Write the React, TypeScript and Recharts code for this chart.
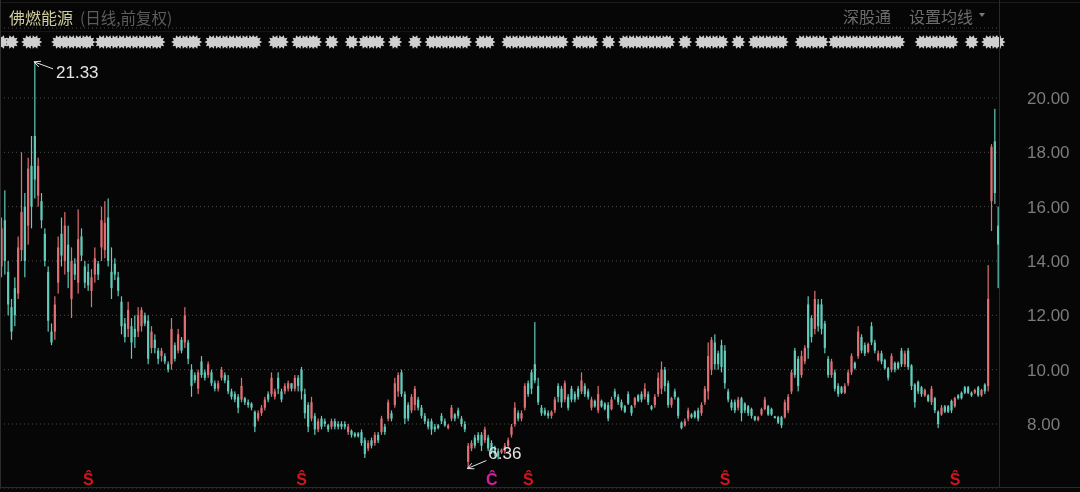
import React from "react";
import { ComposedChart, Bar, Line, XAxis, YAxis, CartesianGrid, ReferenceDot } from "recharts";

const highs = [
  15.6,16.6,14,12.6,13.4,14.9,18,16.5,17.8,18.6,
  21.33,17.8,16.5,15.2,13.8,11.7,12.7,14.9,15.6,15.8,
  15.3,14.5,14.1,15.9,15.2,14,13.9,13.7,14.5,14,
  16,16.2,16.3,14.5,14.1,13.6,12.7,11.9,12.5,11.9,
  12,12.3,12.3,12.1,12,11.6,11.3,10.8,10.8,10.6,
  10.3,11.9,11,11.5,11.2,12.3,11.1,10.2,9.9,10,
  10.5,10,10.3,10,9.6,9.6,10.1,9.9,9.8,9.3,
  9.2,9.1,9.7,9,8.9,8.8,8.5,8.5,8.7,9,
  9.2,9.9,9.3,9.9,9.3,9.5,9.6,9.5,9.8,9.8,
  10.1,9.3,8.8,9,8.4,8.2,8.3,8.2,8,8.2,
  8.2,8.1,8.1,8.1,8,7.8,7.7,7.7,7.8,7.5,
  7.4,7.5,7.7,7.7,8.3,8,8.9,8.5,9.7,9.9,
  10,9.2,8.8,9.1,9.4,9,8.7,8.4,8.2,8.2,
  8,8,8.4,8.2,8,8.7,8.4,8.6,8.3,8.1,
  7.3,7.4,7.6,7.7,7.7,7.9,7.6,7.4,7.2,7.1,
  7.1,7.3,7.5,8,8.8,8.5,8.5,9.5,9.6,10,
  11.75,9.7,8.7,8.6,8.5,8.5,9,9.5,9.4,9.6,
  9.1,9.4,9.2,9.4,9.9,9.5,9.3,9,8.9,9.4,
  8.9,8.8,8.8,9,9.3,9.1,8.9,8.7,9.2,8.7,
  9,9.1,9.2,9.5,9.2,8.7,9.1,9.9,10.3,10.1,
  9.6,9,9.3,9,8.1,8.2,8.6,8.4,8.5,8.6,
  8.8,9.4,11,11.2,11.3,10.7,11.1,10.9,9.3,8.9,
  8.9,9,9,8.8,8.7,8.6,8.3,8.3,8.6,9,
  8.7,8.6,8.3,8.3,8.3,8.9,9.1,10,10.8,10.5,
  10.7,10.9,12.7,12,12.9,12.6,12.6,11.8,10.5,10.4,
  10,9.5,9.4,9.5,10,10.6,10.3,11.6,11.3,11,
  11,11.75,11.1,10.7,10.7,10.4,10.1,10.6,10.3,10.3,
  10.8,10.7,10.8,10.2,9.5,9.6,9.4,9.3,9.1,9.4,
  9,8.5,8.7,8.7,8.7,8.9,9,9.1,9.2,9.4,
  9.4,9.2,9.3,9.4,9.3,9.5,13.85,18.3,19.6,16,
];

const lows = [
  13.4,13.5,12,11.1,11.6,12.6,14,13.4,14.6,15.2,
  16.3,16,15.2,13.8,11.4,10.9,11.1,12.8,13.8,13.5,
  13,11.9,13.3,12.8,14,13,12.9,12.3,13.2,13.3,
  14,14.1,13.8,12.6,13.3,12.7,11.3,11,11.2,10.4,
  10.8,11.2,11.4,11.6,10.2,10.6,10.6,10.2,10.3,10.2,
  9.9,10,10.3,10.6,10.6,10.8,10.2,9,9.5,9.1,
  9.7,9.6,9.7,9.4,9.2,9.2,9.6,9.5,9.1,8.9,
  8.8,8.4,8.8,8.7,8.6,8.5,7.7,8.1,8.3,8.5,
  8.8,9,8.9,9.1,8.8,9.1,9.2,9.2,9.2,9.2,
  8.9,8.2,7.7,8.1,7.6,7.7,7.8,7.9,7.7,7.8,
  7.8,7.8,7.8,7.8,7.6,7.5,7.5,7.5,7.2,6.75,
  7,7.1,7.2,7.3,7.6,7.6,8.1,8.1,8.6,9,
  9,8,8.1,8.4,8.5,8.5,8.2,8,7.8,7.6,
  7.7,7.8,8,7.9,7.8,8.1,8.1,8.2,7.9,7.7,
  6.36,7,7.1,7.3,7,7.3,7,6.9,6.8,6.7,
  6.9,6.9,7.1,7.5,7.9,8.1,8.1,8.5,9,9.1,
  9.5,8.7,8.3,8.3,8.2,8.2,8.4,8.8,8.6,8.8,
  8.5,8.8,8.8,8.9,9.1,9,8.9,8.5,8.6,8.4,
  8.6,8.5,8.1,8.5,8.9,8.7,8.5,8.4,8.7,8.3,
  8.6,8.8,8.8,8.9,8.7,8.5,8.6,9,9.1,9.2,
  8.6,8.6,8.9,8.2,7.8,7.9,8.1,8.2,8.2,8.1,
  8.3,8.7,8.9,9.8,10,10,9.9,9.3,8.8,8.5,
  8.4,8.5,8.1,8.4,8.3,8.2,8.1,8.1,8.3,8.5,
  8.3,8.3,8.2,8,7.85,8.2,8.4,9.1,9.7,9.2,
  9.7,10.2,10.4,11,11.3,11.4,11.3,10.6,9.7,9.7,
  9.2,9,9.1,9.1,9.4,9.8,10,10.4,10.6,10.5,
  10.6,10.9,10.6,10.3,10.2,10,9.6,9.9,9.9,10,
  10.1,10.1,10,9.25,8.6,9.1,9,9,8.8,8.7,
  8.4,7.85,8.3,8.4,8.4,8.4,8.6,8.9,8.9,9.1,
  9.1,9,9.1,9,9,9.1,9.2,15.1,16.1,13,
];

const opens = [
  13.8,15.5,13.6,12.3,13,12.8,14.4,16,15.3,17.5,
  18.6,16.4,16.2,15,13.6,11.4,11.4,13.2,15,14,
  14.6,12.6,13.9,13.2,14.9,13.8,13.6,12.9,13.5,13.9,
  14.5,14.4,15.6,13.6,13.9,13.4,12.5,11.7,11.5,11.6,
  11.5,11.4,11.6,12,11.8,10.8,11.1,10.7,10.5,10.5,
  10.2,10.2,10.9,10.7,11.1,11,11,10,9.8,9.3,
  10.3,9.9,9.8,9.9,9.5,9.3,9.7,9.8,9.6,9.2,
  9.1,9,8.9,8.95,8.8,8.75,8.45,8.2,8.4,8.6,
  9.1,9.1,9,9.7,9.2,9.2,9.3,9.5,9.3,9.7,
  10,9.1,8.7,8.2,8.3,7.8,8.2,8.1,7.95,7.9,
  8.1,8,8,8,7.7,7.75,7.65,7.65,7.7,7.4,
  7.1,7.4,7.3,7.6,7.7,7.9,8.2,8.4,8.7,9.2,
  9.9,9.1,8.7,8.5,8.7,8.9,8.6,8.3,8.1,8.1,
  7.9,7.95,8.3,8.1,7.85,8.2,8.35,8.5,8.2,8,
  6.6,7.1,7.5,7.6,7.6,7.4,7.5,7.3,7.1,7,
  6.95,7,7.2,7.6,8,8.4,8.2,8.6,9.5,9.9,
  10.2,9.4,8.6,8.5,8.4,8.3,8.5,9.4,9.3,8.9,
  9,9.3,9.1,9.3,9.2,9.4,9.2,8.6,8.85,8.5,
  8.85,8.75,8.7,8.55,9.2,9,8.8,8.65,9.1,8.65,
  8.7,9.05,9.1,9,9.1,8.65,8.7,9.1,9.3,10,
  9.5,8.7,9.2,8.95,8.05,7.95,8.2,8.35,8.45,8.5,
  8.4,8.8,9.2,10,11,10.6,10.9,10.7,9.2,8.8,
  8.8,8.6,8.95,8.75,8.65,8.55,8.28,8.15,8.35,8.55,
  8.65,8.55,8.28,8.25,8.25,8.25,8.5,9.2,10.7,10.4,
  9.8,10.3,12.4,11.9,11.5,12.4,12.4,11.7,10.4,9.8,
  9.9,9.4,9.35,9.15,9.5,9.9,10.25,10.5,11.2,10.9,
  10.65,11.6,11,10.35,10.6,10.35,10.05,10,10.25,10.25,
  10.7,10.2,10.7,10.15,9.45,9.55,9.35,9.05,9.05,8.8,
  8.95,8.45,8.35,8.65,8.65,8.85,8.65,9.05,9.15,9.35,
  9.35,9.15,9.15,9.35,9.05,9.45,9.4,16.2,18.4,15.3,
];

const closes = [
  15.2,14,12.4,11.4,12,14.5,15.8,14,17.4,16,
  17,17.5,15.5,14,11.8,11,12.4,14.5,14.2,15.3,
  13.6,14,13.5,14.8,14.2,13.2,13.1,13.4,14.1,13.5,
  15.5,15.4,14,13,13.5,12.9,11.6,11.2,12.2,11,
  11.2,12,12.2,11.7,10.4,11.4,10.8,10.4,10.7,10.3,
  10,11.5,10.4,11.3,10.7,12,10.4,9.4,9.6,9.9,
  9.8,9.7,10.2,9.5,9.3,9.5,10,9.6,9.2,9,
  8.9,8.6,9.4,8.8,8.7,8.6,7.9,8.4,8.6,8.9,
  8.9,9.7,9.2,9.3,8.9,9.4,9.5,9.3,9.7,9.4,
  9.2,8.4,7.9,8.8,7.8,8.1,7.9,8,7.8,8.1,
  7.9,7.9,7.9,7.9,7.9,7.6,7.55,7.55,7.3,6.9,
  7.3,7.2,7.6,7.4,8.2,7.7,8.8,8.2,9.5,9.8,
  9.1,8.2,8.2,9,9.3,8.6,8.3,8.1,7.9,7.8,
  7.8,7.85,8.1,7.95,7.95,8.6,8.2,8.3,8,7.8,
  7.2,7.3,7.2,7.4,7.2,7.8,7.1,7,6.9,6.8,
  7.05,7.2,7.4,7.9,8.6,8.2,8.4,9.4,9.1,9.3,
  9.6,8.8,8.4,8.35,8.3,8.45,8.9,9,8.8,9.5,
  8.6,8.9,8.9,9,9.6,9.1,9,8.9,8.65,9.1,
  8.65,8.55,8.2,8.9,9,8.8,8.6,8.45,8.75,8.4,
  8.95,8.85,8.9,9.3,8.8,8.55,9,9.7,10,9.4,
  8.7,8.95,9,8.3,7.85,8.1,8.5,8.25,8.25,8.2,
  8.7,9.3,10.5,11.1,10.2,10.2,10.1,9.5,8.9,8.6,
  8.5,8.9,8.4,8.5,8.4,8.3,8.15,8.25,8.55,8.9,
  8.35,8.35,8.22,8.05,7.95,8.8,9,9.9,9.8,9.4,
  10.5,10.8,10.8,11.2,12.6,11.6,11.5,10.8,9.8,10.3,
  9.3,9.1,9.15,9.4,9.9,10.5,10.05,11.4,10.7,10.6,
  10.95,11,10.7,10.6,10.3,10.05,9.7,10.5,10,10.05,
  10.2,10.6,10.1,9.4,8.8,9.2,9.1,9.25,8.85,9.3,
  8.5,8,8.6,8.45,8.45,8.5,8.95,8.95,8.95,9.15,
  9.15,9.05,9.25,9.05,9.25,9.2,12.6,18.2,16.5,14.6,
];

// Candles carrying an event mark in the strip along the top of the plot.
const eventMarks = [
  0,3,8,10,17,19,21,23,25,26,30,32,34,36,38,40,42,44,46,47,53,55,57,58,
  63,65,67,69,71,73,75,76,82,84,89,91,93,94,99,105,109,111,113,118,124,
  129,131,133,135,137,139,144,146,152,154,156,158,160,162,164,166,168,
  173,175,177,182,187,189,191,193,195,197,199,200,205,210,212,214,216,221,
  226,228,230,232,234,240,242,244,246,250,252,254,256,258,260,262,264,266,268,269,
  276,278,280,282,284,285,291,296,298,299,
];

const yTicks = [8, 10, 12, 14, 16, 18, 20];
const yMin = 5.644;
const yMax = 22.575;
const stripLevel = 22.06;
const signalLevel = 6.0;
const signalS = [26, 90, 158, 217, 286];
const signalC = [147];

const UP = "#df6f72";
const DOWN = "#62cbbb";
const FONT = '"Liberation Sans", Arial, sans-serif';
const CJK = '"Noto Sans CJK SC", sans-serif';

const rows = highs.map((h, i) => ({
  i,
  h,
  l: lows[i],
  o: opens[i],
  c: closes[i],
  range: [lows[i], h],
  mark: eventMarks.includes(i) ? stripLevel : null,
}));

function Candle(props: any) {
  const { x, y, width, height, payload } = props;
  const top = Math.min(y, y + height);
  const span = Math.abs(height);
  const k = span / Math.max(payload.h - payload.l, 0.001);
  const color = payload.c >= payload.o ? UP : DOWN;
  const bodyTop = top + (payload.h - Math.max(payload.o, payload.c)) * k;
  const bodyH = Math.max(Math.abs(payload.o - payload.c) * k, 1);
  const mid = x + width / 2;
  return (
    <g>
      <rect x={mid - 0.6} y={top} width={1.2} height={span} fill={color} />
      <rect x={mid - 1.1} y={bodyTop} width={2.2} height={bodyH} fill={color} />
    </g>
  );
}

function starPath(cx: number, cy: number) {
  const pts: string[] = [];
  const n = 10;
  for (let s = 0; s < n * 2; s++) {
    const r = s % 2 === 0 ? 7.2 : 4.7;
    const a = (Math.PI * s) / n;
    pts.push(`${(cx + r * Math.cos(a)).toFixed(2)},${(cy + r * Math.sin(a)).toFixed(2)}`);
  }
  return `M${pts.join("L")}Z`;
}

function StarDot(props: any) {
  const { cx, cy, payload, key } = props;
  if (payload == null || payload.mark == null || cy == null) return <g key={key} />;
  return <path key={key} d={starPath(cx, cy)} fill="#cfcfcf" />;
}

function extremeShape(label: string, dx: number, dy: number, tx: number, ty: number) {
  return (p: any) => {
    const { cx, cy } = p;
    const x2 = cx + dx;
    const y2 = cy + dy;
    const ang = Math.atan2(dy, dx);
    const hx = (a: number) => cx - 1 + 7 * Math.cos(ang + a);
    const hy = (a: number) => cy + 7 * Math.sin(ang + a);
    return (
      <g>
        <path d={`M${cx - 1},${cy}L${x2},${y2}`} stroke="#e6e6e6" strokeWidth={1} fill="none" />
        <path d={`M${hx(0.45)},${hy(0.45)}L${cx - 1},${cy}L${hx(-0.45)},${hy(-0.45)}`} stroke="#e6e6e6" strokeWidth={1} fill="none" />
        <text x={cx + tx} y={cy + ty} fill="#e4e4e4" fontSize={17} fontFamily={FONT}>{label}</text>
      </g>
    );
  };
}

function signalShape(label: string, color: string) {
  return (p: any) => (
    <text x={p.cx} y={p.cy + 7} fill={color} fontSize={16} fontWeight="bold" textAnchor="middle" fontFamily={FONT}>{label}</text>
  );
}

const abs = (s: React.CSSProperties): React.CSSProperties => ({ position: "absolute", whiteSpace: "nowrap", ...s });

export default function App() {
  return (
    <div style={{ position: "fixed", left: 0, top: 0, width: 1080, height: 492, background: "#060606", overflow: "hidden", filter: "blur(0.7px)" }}>
      <ComposedChart
        width={1080}
        height={492}
        data={rows}
        margin={{ top: 28, right: 0, bottom: 4, left: 0 }}
        barCategoryGap={0}
        style={{ position: "absolute", left: 0, top: 0 }}
      >
        <CartesianGrid vertical={false} stroke="#4c4c4c" strokeDasharray="1 3" />
        <XAxis dataKey="i" hide />
        <YAxis
          orientation="right"
          width={80}
          domain={[yMin, yMax]}
          ticks={yTicks}
          allowDataOverflow
          axisLine={false}
          tickLine={false}
          tickMargin={21}
          tickFormatter={(v: number) => v.toFixed(2)}
          tick={{ fill: "#7c7c7c", fontSize: 17, fontFamily: FONT }}
        />
        <Bar dataKey="range" shape={Candle} isAnimationActive={false} />
        <Line dataKey="mark" stroke="none" dot={StarDot} activeDot={false} isAnimationActive={false} />
        <ReferenceDot x={10} y={21.33} shape={extremeShape("21.33", 18, 7, 21, 16)} />
        <ReferenceDot x={140} y={6.36} shape={extremeShape("6.36", 18, -8, 20, -10)} />
        {signalS.map((i) => (
          <ReferenceDot key={i} x={i} y={signalLevel} shape={signalShape("Ŝ", "#d3141f")} />
        ))}
        {signalC.map((i) => (
          <ReferenceDot key={i} x={i} y={signalLevel} shape={signalShape("Ĉ", "#d21f9f")} />
        ))}
      </ComposedChart>
      <div style={abs({ left: 0, top: 2, width: 1080, height: 1, background: "#1c1c1c" })} />
      <div style={abs({ left: 0, top: 31, width: 1000, height: 1, background: "#161616" })} />
      <div style={abs({ left: 0, top: 487, width: 1080, height: 1, background: "#2a2a2a" })} />
      <div style={abs({ left: 999, top: 0, width: 1, height: 488, background: "#2a2a2a" })} />
      <div style={abs({ left: 0, top: 0, width: 1, height: 488, background: "#2c2c2c" })} />
      <div style={abs({ left: 9, top: 5, color: "#cfcd9c", fontSize: 16, lineHeight: "24px", fontFamily: CJK })}>佛燃能源</div>
      <div style={abs({ left: 80, top: 5, color: "#5c5c5c", fontSize: 15.5, lineHeight: "24px", fontFamily: CJK })}>(日线,前复权)</div>
      <div style={abs({ left: 843, top: 4, color: "#6c6c6c", fontSize: 16, lineHeight: "24px", fontFamily: CJK })}>深股通</div>
      <div style={abs({ left: 909, top: 4, color: "#6c6c6c", fontSize: 16, lineHeight: "24px", fontFamily: CJK })}>设置均线</div>
      <div style={abs({ left: 979, top: 13, width: 0, height: 0, borderLeft: "3px solid transparent", borderRight: "3px solid transparent", borderTop: "4px solid #7a7a7a" })} />
    </div>
  );
}
